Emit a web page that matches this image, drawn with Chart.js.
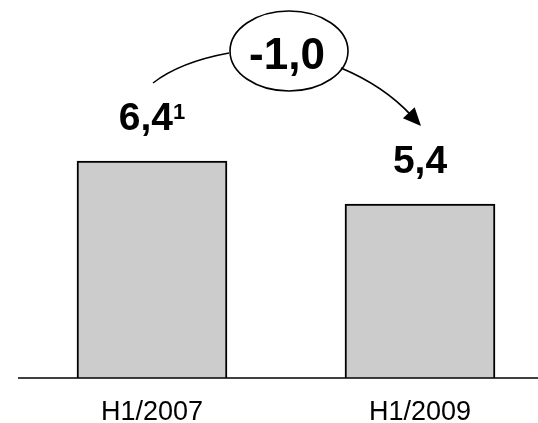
<!DOCTYPE html>
<html>
<head>
<meta charset="utf-8">
<script src="https://cdn.jsdelivr.net/npm/chart.js@4"></script>
<style>
  html, body { margin: 0; padding: 0; background: #fff; overflow: hidden; }
  #wrap { width: 538px; height: 423px; overflow: hidden; }
  canvas { display: block; }
</style>
</head>
<body>
<div id="wrap"><canvas id="c" width="554" height="423"></canvas></div>
<script>
// Half-year figures
const categories = ['H1/2007', 'H1/2009'];
const values = [6.4, 5.4];
const footnotes = ['1', ''];

const FONT = '"Liberation Sans", Arial, Helvetica, sans-serif';

function fmt(v) {
  return v.toFixed(1).replace('.', ',');
}

// Baseline running from the left edge of the plot to the right edge of the canvas
const baseline = {
  id: 'baseline',
  afterDatasetsDraw(chart) {
    const ctx = chart.ctx;
    const y = chart.chartArea.bottom;
    ctx.save();
    ctx.strokeStyle = '#000';
    ctx.lineWidth = 1.6;
    ctx.beginPath();
    ctx.moveTo(chart.chartArea.left, y);
    ctx.lineTo(chart.width, y);
    ctx.stroke();
    ctx.restore();
  }
};

// Value labels above the bars, plus the change bubble with its connecting arrow
const annotate = {
  id: 'annotate',
  afterDatasetsDraw(chart) {
    const ctx = chart.ctx;
    const bars = chart.getDatasetMeta(0).data;
    ctx.save();
    ctx.fillStyle = '#000';
    ctx.strokeStyle = '#000';
    ctx.textBaseline = 'alphabetic';

    // value labels with optional superscript footnote
    bars.forEach((bar, i) => {
      const main = fmt(values[i]);
      ctx.font = 'bold 39px ' + FONT;
      const wMain = ctx.measureText(main).width;
      let wSup = 0;
      if (footnotes[i]) {
        ctx.font = 'bold 22px ' + FONT;
        wSup = ctx.measureText(footnotes[i]).width;
      }
      const x0 = bar.x - (wMain + wSup) / 2;
      const base = bar.y - 31;
      ctx.font = 'bold 39px ' + FONT;
      ctx.textAlign = 'left';
      ctx.fillText(main, x0, base);
      if (footnotes[i]) {
        ctx.font = 'bold 22px ' + FONT;
        ctx.fillText(footnotes[i], x0 + wMain, base - 11);
      }
    });

    // change bubble
    const b0 = bars[0], b1 = bars[1];
    const cx = (b0.x + b1.x) / 2 + 3;
    const cy = chart.chartArea.top + 51;
    const rx = 59, ry = 40;
    ctx.lineWidth = 1.6;
    ctx.beginPath();
    ctx.ellipse(cx, cy, rx, ry, 0, 0, Math.PI * 2);
    ctx.stroke();

    ctx.font = 'bold 44px ' + FONT;
    ctx.textAlign = 'center';
    ctx.fillText(fmt(values[1] - values[0]), cx - 2, cy + 18);

    // curve from the first label into the bubble
    ctx.lineWidth = 1.5;
    ctx.beginPath();
    ctx.moveTo(b0.x + 1, cy + 32);
    ctx.quadraticCurveTo(b0.x + 28, cy + 11, cx - rx - 1, cy + 2);
    ctx.stroke();

    // arrow from the bubble down to the second label
    const sx = cx + 52, sy = cy + 17;
    const tx = b1.x + 1, ty = cy + 75;
    const qx = sx + 43, qy = sy + 18;
    const ang = Math.atan2(ty - qy, tx - qx);
    const headLen = 18, headHalf = 8;
    const ex = tx - Math.cos(ang) * headLen * 0.8;
    const ey = ty - Math.sin(ang) * headLen * 0.8;
    ctx.lineWidth = 1.8;
    ctx.beginPath();
    ctx.moveTo(sx, sy);
    ctx.quadraticCurveTo(qx, qy, ex, ey);
    ctx.stroke();
    const bx = tx - Math.cos(ang) * headLen;
    const by = ty - Math.sin(ang) * headLen;
    ctx.beginPath();
    ctx.moveTo(tx, ty);
    ctx.lineTo(bx + Math.sin(ang) * headHalf, by - Math.cos(ang) * headHalf);
    ctx.lineTo(bx - Math.sin(ang) * headHalf, by + Math.cos(ang) * headHalf);
    ctx.closePath();
    ctx.fill();

    ctx.restore();
  }
};

new Chart(document.getElementById('c'), {
  type: 'bar',
  data: {
    labels: categories,
    datasets: [{
      data: values,
      backgroundColor: '#cccccc',
      borderColor: '#000000',
      borderWidth: 2,
      barThickness: 150
    }]
  },
  options: {
    responsive: false,
    animation: false,
    devicePixelRatio: 1,
    layout: { padding: { left: 18, right: 0, top: 0, bottom: 0 } },
    plugins: {
      legend: { display: false },
      tooltip: { enabled: false }
    },
    scales: {
      x: {
        grid: { display: false, drawTicks: false },
        border: { display: false },
        ticks: {
          color: '#000',
          padding: 18,
          font: { family: FONT, size: 27 }
        },
        afterFit(scale) { scale.height = 45; }
      },
      y: {
        display: false,
        min: 1.35,
        max: 10.15
      }
    }
  },
  plugins: [baseline, annotate]
});
</script>
</body>
</html>
